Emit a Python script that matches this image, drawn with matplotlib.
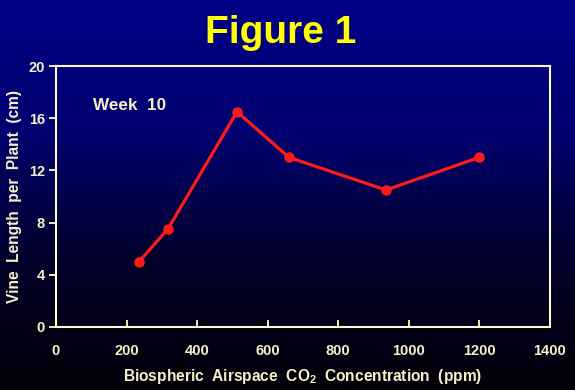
import numpy as np
from matplotlib import pyplot as plt
from matplotlib.colors import LinearSegmentedColormap

plt.rcParams['mathtext.fontset'] = 'custom'
plt.rcParams['mathtext.bf'] = 'Liberation Sans:bold'
plt.rcParams['mathtext.rm'] = 'Liberation Sans:bold'

# Data
co2_ppm = [235, 317, 513, 660, 935, 1200]
vine_cm = [5.0, 7.5, 16.5, 13.0, 10.5, 13.0]
x_ticks = [0, 200, 400, 600, 800, 1000, 1200, 1400]
y_ticks = [0, 4, 8, 12, 16, 20]

cream = '#f5f0c8'
frame = '#fffbd0'

fig = plt.figure(figsize=(5.75, 3.9), dpi=100)

# Blue-to-black gradient background
bg = fig.add_axes([0, 0, 1, 1], zorder=0)
grad = np.linspace(1, 0, 256).reshape(-1, 1)
cmap = LinearSegmentedColormap.from_list('bg', ['#030008', '#02002a', '#000070', '#000086'])
bg.imshow(grad, aspect='auto', cmap=cmap, origin='upper', extent=[0, 1, 0, 1])
bg.axis('off')

ax = fig.add_axes([56 / 575, 1 - 327 / 390, 494 / 575, 261 / 390], zorder=1)
ax.patch.set_alpha(0)

ax.plot(co2_ppm, vine_cm, color='#ff1a1a', lw=2.3, marker='o', ms=6.5,
        markeredgecolor='#ff1a1a')

ax.set_xlim(0, 1400)
ax.set_ylim(0, 20)
ax.set_xticks(x_ticks)
ax.set_yticks(y_ticks)

for s in ax.spines.values():
    s.set_color(frame)
    s.set_linewidth(1.5)

ax.tick_params(axis='x', direction='in', length=5, width=1.3, color=frame,
               labelcolor=cream, labelsize=10.5, pad=12)
ax.tick_params(axis='y', direction='out', length=5, width=1.3, color=frame,
               labelcolor=cream, labelsize=10.5, pad=3)
for lab in ax.get_xticklabels() + ax.get_yticklabels():
    lab.set_fontweight('bold')
    lab.set_family('Liberation Sans')
# hide ticks at the edges of the x axis
xt = ax.xaxis.get_major_ticks()
xt[0].tick1line.set_visible(False)
xt[-1].tick1line.set_visible(False)

ax.set_xlabel(r'Biospheric  Airspace  CO$_\mathbf{2}$  Concentration  (ppm)',
              color=cream, fontsize=11.2, fontweight='bold', family='Liberation Sans',
              labelpad=7)
ax.set_ylabel('Vine  Length  per  Plant  (cm)', color=cream, fontsize=11.2,
              fontweight='bold', family='Liberation Sans', labelpad=5)

ax.text(0.075, 0.83, 'Week  10', transform=ax.transAxes, color=cream,
        fontsize=12.3, fontweight='bold', family='Liberation Sans')

fig.text(281 / 575, 1 - 33 / 390, 'Figure 1', ha='center', va='center', color='#ffff00',
         fontsize=28, fontweight='bold', family='Liberation Sans')

fig.savefig('out.png', dpi=100)
